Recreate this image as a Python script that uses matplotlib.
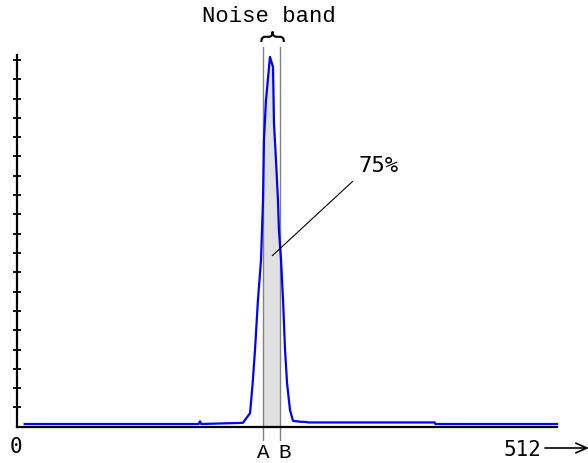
import numpy as np
import matplotlib
matplotlib.use("Agg")
import matplotlib.pyplot as plt
from matplotlib.path import Path
from matplotlib.patches import PathPatch, FancyArrowPatch

# ---- data ----
x_vals = [7, 172, 173.3, 174.5, 214, 220.8, 223.3, 225.5, 228.3, 231.2, 233.1, 234.0,
          235.9, 239.7, 242.6, 243.5, 245.4, 247.3, 248.2, 250.2, 252.1, 254.0,
          255.9, 258.7, 261.6, 268.2, 274.8, 275.3, 396.0, 396.5, 512]
y_vals = [0.7, 0.7, 1.4, 0.7, 1.0, 3.5, 11.3, 19.9, 32.8, 43.2, 58.7, 74.3,
          84.6, 95.8, 93.2, 78.7, 69.1, 58.7, 51.0, 43.2, 32.8, 19.9,
          11.3, 4.3, 1.5, 1.3, 1.2, 1.1, 1.1, 0.7, 0.7]
band = [233.0, 249.4]          # A, B
band_labels = ["A", "B"]
share_label = "75%"
x_max = 512
y_ticks = list(range(5, 100, 5))

W, H = 588, 463
fig = plt.figure(figsize=(W / 100, H / 100), dpi=100)

def fx(px):
    return px / W

def fy(py):
    return 1 - py / H

ax_left, ax_right, ax_top, ax_bot = 17.3, 557.0, 55.0, 426.7
ax = fig.add_axes([fx(ax_left), fy(ax_bot), (ax_right - ax_left) / W, (ax_bot - ax_top) / H])
ax.set_xlim(0, x_max)
ax.set_ylim(0, (ax_bot - ax_top) / 3.86)

for s in ["top", "right"]:
    ax.spines[s].set_visible(False)
ax.spines["left"].set_linewidth(1.6)
ax.spines["bottom"].set_linewidth(1.6)
ax.set_xticks([])
ax.set_yticks(y_ticks)
ax.tick_params(axis="y", direction="inout", length=6, width=1.3, labelleft=False)

xs = np.array(x_vals)
ys = np.array(y_vals)

# grey fill of the noise band under the curve
grid = np.linspace(band[0], band[1], 200)
ax.fill_between(grid, 0, np.interp(grid, xs, ys), color="#e0e0e0", lw=0, zorder=1)

# band boundary lines
trans = ax.get_xaxis_transform()
for b in band:
    ax.plot([b, b], [-0.036, 1.022], transform=trans, color="#808080", lw=1.0,
            clip_on=False, zorder=2)

# histogram curve
ax.plot(xs, ys, color="#0000ff", lw=1.6, zorder=3, clip_on=False)

# brace above the band
xl, xr = band[0] - 1.5, band[1] + 3.5
xm = (xl + xr) / 2
q = (xr - xl) / 6
y0, y1, y2 = 1.035, 1.049, 1.063
verts = [(xl, y0), (xl, y1), (xl + q, y1), (xm - q, y1), (xm, y1), (xm, y2),
         (xm, y1), (xm + q, y1), (xr - q, y1), (xr, y1), (xr, y0)]
codes = [Path.MOVETO, Path.CURVE3, Path.CURVE3, Path.LINETO, Path.CURVE3, Path.CURVE3,
         Path.CURVE3, Path.CURVE3, Path.LINETO, Path.CURVE3, Path.CURVE3]
ax.add_patch(PathPatch(Path(verts, codes), transform=trans, fill=False, lw=1.5,
                       ec="black", clip_on=False))

serif_mono = "Liberation Mono"
sans_mono = "DejaVu Sans Mono"

fig.text(fx(268.7), fy(21.7), "Noise band", family=serif_mono, fontsize=16,
         ha="center", va="baseline")

# A / B labels
lab_y = (ax_bot - 457.5) / (ax_bot - ax_top)
ax.text(band[0], lab_y, band_labels[0], transform=trans, family=serif_mono,
        fontsize=15, ha="center", va="baseline")
ax.text(band[1] + 4.0, lab_y, band_labels[1], transform=trans, family=serif_mono,
        fontsize=15, ha="center", va="baseline")

# 75% annotation
ax.annotate(share_label, xy=(241.9, 44.3), xytext=(fx(378.5), fy(172)),
            textcoords="figure fraction", family=sans_mono, fontsize=16,
            ha="center", va="baseline",
            arrowprops=dict(arrowstyle="-", lw=0.8, color="black",
                            relpos=(0, 0), shrinkA=3, shrinkB=0))

# axis end labels
fig.text(fx(15.7), fy(453), "0", family=sans_mono, fontsize=15, ha="center", va="baseline")
fig.text(fx(522), fy(456.5), str(x_max), family=sans_mono, fontsize=15, ha="center",
         va="baseline")
fig.patches.append(FancyArrowPatch(
    (fx(545), fy(448)), (fx(589), fy(448)), transform=fig.transFigure,
    arrowstyle="->,head_length=0.8,head_width=0.35", lw=1.2, color="black",
    mutation_scale=10, shrinkA=0, shrinkB=0))

fig.savefig("out.png", dpi=100)
